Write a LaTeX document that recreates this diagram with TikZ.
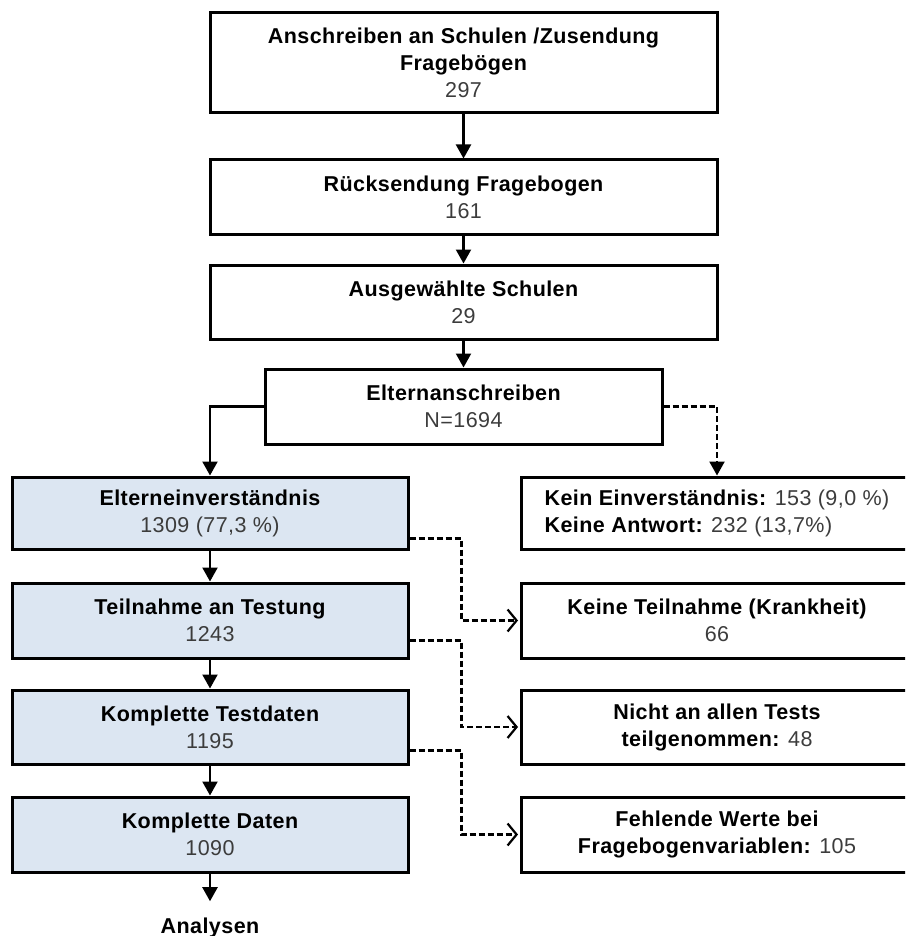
\documentclass[tikz,border=0pt]{standalone}
\usepackage{fontspec}
\setmainfont{Liberation Sans}[LetterSpace=2]
\usetikzlibrary{arrows.meta,positioning}
\definecolor{flowblue}{RGB}{220,230,242}
\definecolor{numgray}{RGB}{60,60,60}
\newcommand{\cnt}[1]{{\mdseries\color{numgray}#1}}
\tikzset{
  stage/.style={draw, line width=3pt, minimum width=507pt, minimum height=74pt, align=center, inner sep=0pt, font=\fontsize{21.5}{27}\selectfont\bfseries},
  sample/.style={draw, line width=3pt, fill=flowblue, minimum width=396pt, minimum height=74pt, align=center, inner sep=0pt, font=\fontsize{21.5}{27}\selectfont\bfseries},
  dropout/.style={draw, line width=3pt, minimum width=392pt, minimum height=74pt, align=center, inner sep=0pt, font=\fontsize{21.5}{27}\selectfont\bfseries},
  arrow/.style={-{Triangle[length=14pt, width=15pt]}, line width=2.2pt},
  dashedarrow/.style={-{Triangle[length=14pt, width=15pt]}, line width=2.2pt, dash pattern=on 6pt off 3pt},
  openarrow/.style={-{Straight Barb[length=9pt, width=22pt, line width=2.2pt]}, line width=2.2pt, dash pattern=on 6pt off 3pt, shorten >=1.5pt}
}
\begin{document}
\begin{tikzpicture}[x=1pt,y=-1pt]
  \clip (0,0) rectangle (905,936);
  \node[stage, minimum height=100pt] (b1) at (463.5,63) {Anschreiben an Schulen /Zusendung\\Fragebögen\\\cnt{297}};
  \node[stage] (b2) at (463.5,197) {Rücksendung Fragebogen\\\cnt{161}};
  \node[stage] (b3) at (463.5,302) {Ausgewählte Schulen\\\cnt{29}};
  \node[stage, minimum width=397pt, minimum height=75pt] (b4) at (463.5,406.5) {Elternanschreiben\\\cnt{N=1694}};
  \node[sample, minimum height=72pt] (l1) at (210,513) {Elterneinverständnis\\\cnt{1309 (77,3 \%)}};
  \node[sample, minimum height=75pt] (l2) at (210,620.5) {Teilnahme an Testung\\\cnt{1243}};
  \node[sample] (l3) at (210,727) {Komplette Testdaten\\\cnt{1195}};
  \node[sample, minimum height=75pt] (l4) at (210,834.5) {Komplette Daten\\\cnt{1090}};
  \node[dropout, minimum height=72pt, align=left] (r1) at (717,513) {Kein Einverständnis: \cnt{153 (9,0 \%)}\\Keine Antwort: \cnt{232 (13,7\%)}};
  \node[dropout, minimum height=75pt] (r2) at (717,620.5) {Keine Teilnahme (Krankheit)\\\cnt{66}};
  \node[dropout] (r3) at (717,727) {Nicht an allen Tests\\teilgenommen: \cnt{48}};
  \node[dropout, minimum height=75pt] (r4) at (717,834.5) {Fehlende Werte bei\\Fragebogenvariablen: \cnt{105}};
  \node[anchor=base, inner sep=0pt, font=\fontsize{21.5}{27}\selectfont\bfseries] (ana) at (210,933) {Analysen};
  \draw[arrow] (b1) -- (b2);
  \draw[arrow] (b2) -- (b3);
  \draw[arrow] (b3) -- (b4);
  \draw[arrow] (b4.west) -| (l1.north);
  \draw[dashedarrow] (b4.east) -| (r1.north);
  \draw[arrow] (l1) -- (l2);
  \draw[arrow] (l2) -- (l3);
  \draw[arrow] (l3) -- (l4);
  \draw[arrow, shorten >=16pt] (l4) -- (ana);
  \draw[openarrow] ([yshift=12pt]l1.south east) -| ([xshift=-58pt]r2.west) -- (r2.west);
  \draw[openarrow] ([yshift=19pt]l2.south east) -| ([xshift=-58pt]r3.west) -- (r3.west);
  \draw[openarrow] ([yshift=15pt]l3.south east) -| ([xshift=-58pt]r4.west) -- (r4.west);
\end{tikzpicture}
\end{document}
